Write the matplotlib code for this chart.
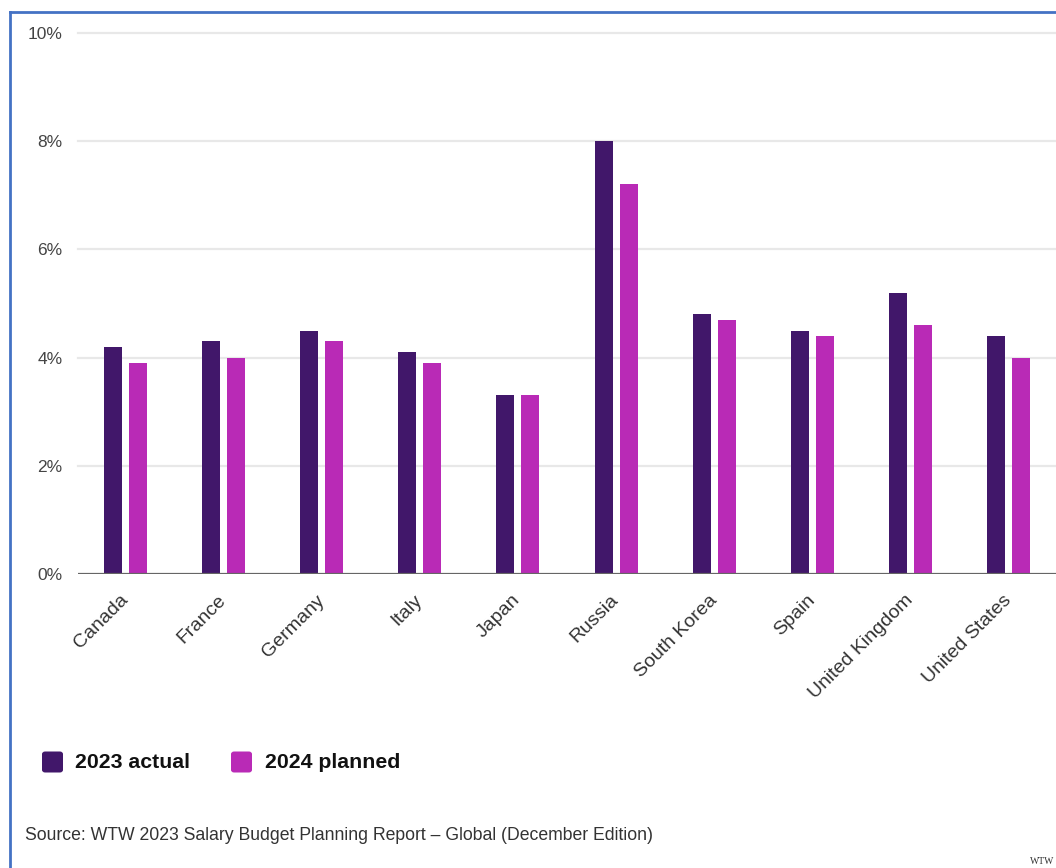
import matplotlib
matplotlib.use("Agg")
import matplotlib.pyplot as plt
import numpy as np
from matplotlib.patches import FancyBboxPatch
from matplotlib.lines import Line2D

categories = ["Canada", "France", "Germany", "Italy", "Japan", "Russia",
              "South Korea", "Spain", "United Kingdom", "United States"]
actual_2023 = [4.2, 4.3, 4.5, 4.1, 3.3, 8.0, 4.8, 4.5, 5.2, 4.4]
planned_2024 = [3.9, 4.0, 4.3, 3.9, 3.3, 7.2, 4.7, 4.4, 4.6, 4.0]
yticks = [0, 2, 4, 6, 8, 10]
ytick_labels = ["0%", "2%", "4%", "6%", "8%", "10%"]
series_names = ["2023 actual", "2024 planned"]
source_text = "Source: WTW 2023 Salary Budget Planning Report \u2013 Global (December Edition)"

c_dark = "#41176A"
c_mag = "#B92AB6"

W, H = 1056, 868
fig = plt.figure(figsize=(W / 100, H / 100), dpi=100)
plt.rcParams['font.family'] = ['Liberation Sans', 'DejaVu Sans']

ax = fig.add_axes([78 / W, 1 - 574 / H, 1 - 78 / W, (574 - 33) / H])
x = np.arange(len(categories))
bw = 0.183
off = 0.127
ax.bar(x - off, actual_2023, bw, color=c_dark, zorder=3)
ax.bar(x + off, planned_2024, bw, color=c_mag, zorder=3)

ax.set_xlim(-0.48, 9.48)
ax.set_ylim(0, 10)
ax.set_yticks(yticks)
ax.set_yticklabels(ytick_labels, fontsize=12.5, color="#444444")
ax.tick_params(axis='y', length=0, pad=11)
for yv in yticks[1:]:
    ax.axhline(yv, color="#e8e8e8", lw=1.6, zorder=1, clip_on=False)
ax.axhline(0, color="#666666", lw=1.6, zorder=4)
for s in ax.spines.values():
    s.set_visible(False)

ax.set_xticks(x)
ax.set_xticklabels(categories, rotation=45, ha='right', va='center',
                   rotation_mode='anchor', fontsize=14, color="#333333")
ax.tick_params(axis='x', length=0, pad=17)

# border lines (screenshot frame)
fig.add_artist(Line2D([10 / W, 10 / W], [0, 1 - 12 / H], color="#4472C4", lw=2,
                      transform=fig.transFigure))
fig.add_artist(Line2D([10 / W, 1], [1 - 12 / H, 1 - 12 / H], color="#4472C4", lw=2,
                      transform=fig.transFigure))

# legend
leg_y = 762
for (lx, tx), name, col in zip([(42, 75), (231, 265)], series_names, [c_dark, c_mag]):
    p = FancyBboxPatch((lx / W, (H - leg_y - 10.5) / H), 21 / W, 21 / H,
                       boxstyle="round,pad=0,rounding_size=0.003",
                       transform=fig.transFigure, facecolor=col, edgecolor='none')
    fig.add_artist(p)
    fig.text(tx / W, 1 - leg_y / H, name, fontsize=15.3, fontweight='bold',
             color="#111111", va='center', ha='left')

fig.text(25 / W, 1 - 836 / H, source_text, fontsize=12.7, color="#333333",
         va='center', ha='left')
fig.text(1030 / W, 1 - 862 / H, "WTW", fontsize=7, color="#333333",
         va='center', ha='left', family='Liberation Serif')

fig.savefig("out.png", dpi=100)
